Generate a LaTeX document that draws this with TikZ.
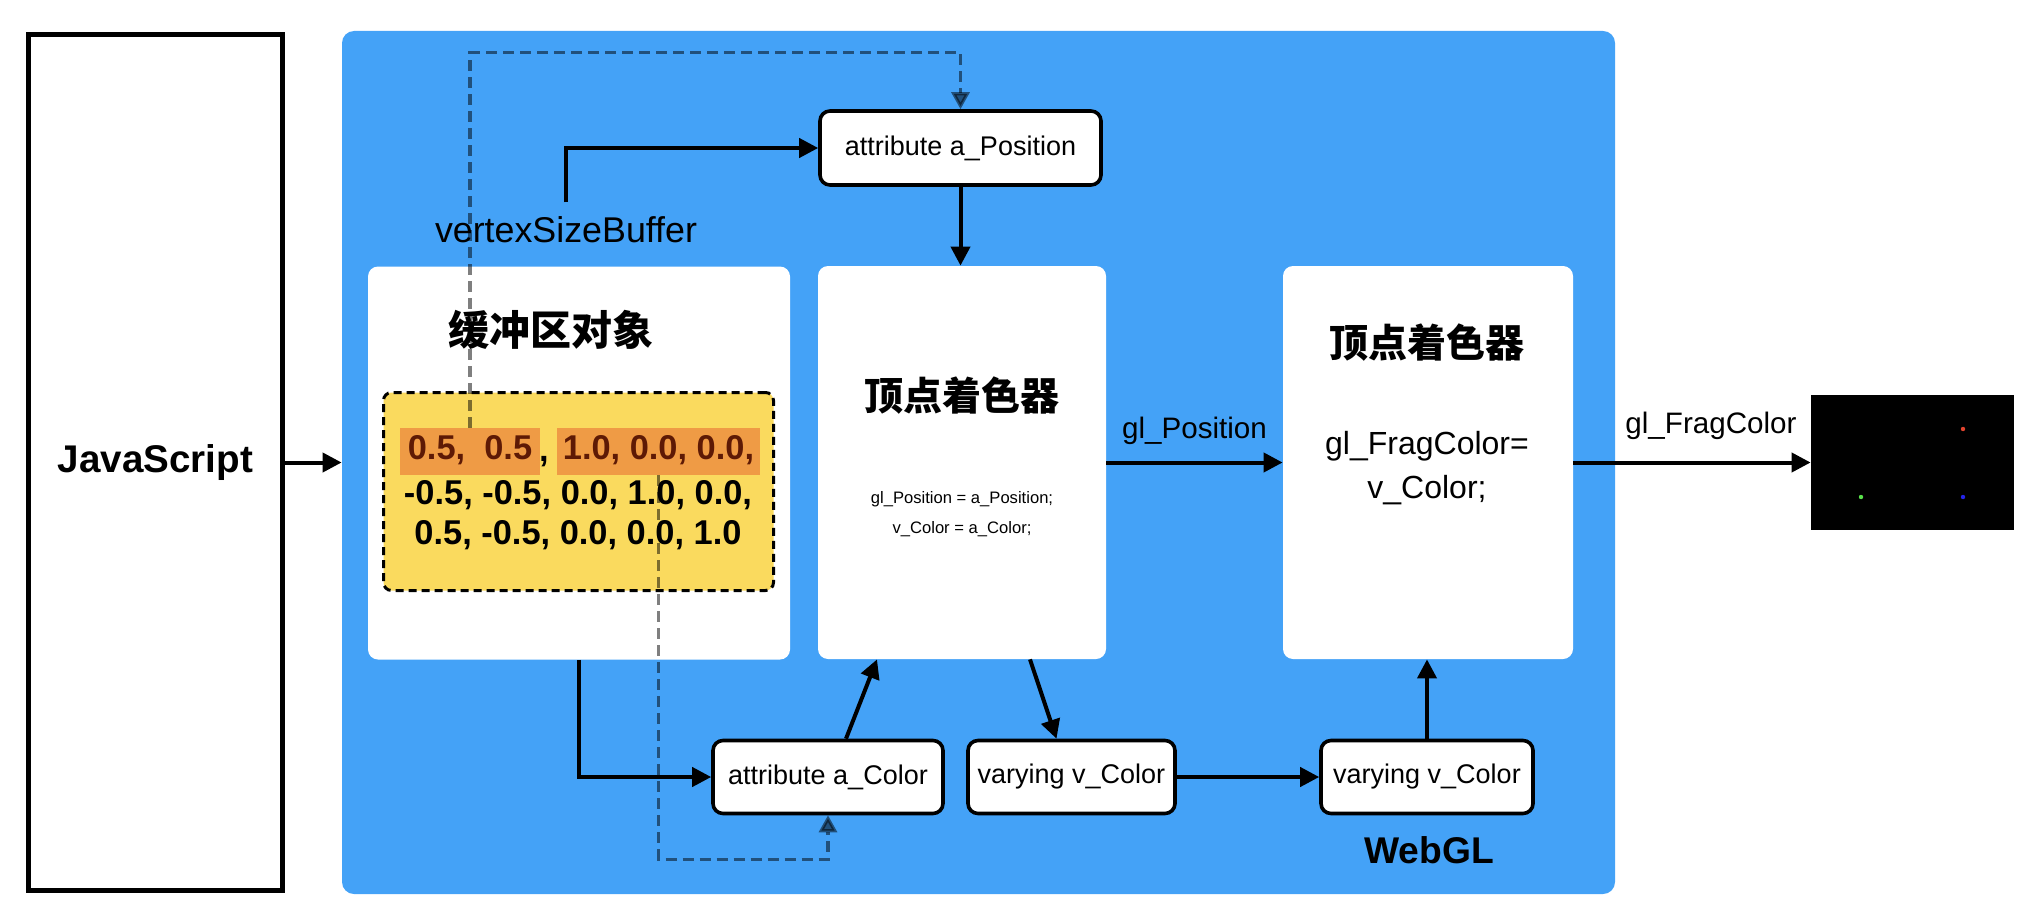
\documentclass[tikz,border=0pt]{standalone}
\usepackage{fontspec}
\setmainfont{Liberation Sans}
\newfontfamily\cjk{Noto Sans CJK SC}
\usetikzlibrary{arrows.meta}

\definecolor{glblue}{HTML}{44A2F7}
\definecolor{datayellow}{HTML}{FADA5E}
\definecolor{hlorange}{HTML}{EF9B45}
\definecolor{hltext}{HTML}{5E1A05}
\definecolor{dotred}{HTML}{E0442E}
\definecolor{dotgreen}{HTML}{58E04A}
\definecolor{dotblue}{HTML}{2424E8}

\tikzset{
    panel/.style={fill=white, rounded corners=5pt, inner sep=0pt, minimum height=196.5pt},
    glbox/.style={draw, line width=1.8pt, rounded corners=5pt, fill=white, inner sep=0pt,
        minimum height=36.5pt, font=\fontsize{13.5}{16}\selectfont},
    numtext/.style={font=\bfseries\fontsize{17.2}{20}\selectfont, inner sep=0pt,
        text height=0.74em, text depth=0.16em},
    hl/.style={numtext, fill=hlorange, text=hltext, minimum height=23.5pt, text height=0.98em},
    title/.style={font=\cjk\bfseries\fontsize{19.5}{22}\selectfont},
    lbl/.style={font=\fontsize{14.8}{17}\selectfont, inner sep=2pt},
    arrow/.style={line width=2pt, -{Triangle[length=9.5pt,width=9.5pt]}},
    flow/.style={line width=1.6pt, opacity=0.5, dash pattern=on 5.5pt off 3pt,
        -{Triangle[length=8.5pt,width=9pt]}}
}

\begin{document}
\begin{tikzpicture}[x=0.5pt, y=-0.5pt]
    \useasboundingbox (0,0) rectangle (2034,920);

    % JavaScript side
    \node[draw, line width=2.2pt, minimum width=127pt, minimum height=428pt,
        font=\bfseries\fontsize{19.3}{22}\selectfont] (js) at (155.5,462.5) {JavaScript};

    % WebGL container and panels
    \node[fill=glblue, rounded corners=6pt, minimum width=636.5pt, minimum height=431.5pt,
        inner sep=0pt] (gl) at (978.5,462.5) {};
    \node[panel, minimum width=211pt] (buf) at (579,463) {};
    \node[panel, minimum width=144pt] (vs) at (962,462.5) {};
    \node[panel, minimum width=145pt] (fs) at (1428,462.5) {};

    % buffer object
    \node[title, font=\cjk\bfseries\fontsize{20.5}{23}\selectfont] (buftitle) at (551,330) {缓冲区对象};
    \node[draw, fill=datayellow, line width=1.5pt, dash pattern=on 4pt off 2.5pt,
        rounded corners=4pt, minimum width=195pt, minimum height=99pt] (data) at (578.5,491.5) {};
    \node[hl, minimum width=70pt] (hlA) at (470,451.5) {0.5,\ \ 0.5};
    \node[numtext] (comma) at (544,456) {,};
    \node[hl, minimum width=101.5pt] (hlB) at (658.5,451.5) {1.0, 0.0, 0.0,};
    \node[numtext] (rowB) at (578,499) {-0.5, -0.5, 0.0, 1.0, 0.0,};
    \node[numtext] (rowC) at (578,539) {0.5, -0.5, 0.0, 0.0, 1.0};

    % vertex shader
    \node[title] (vstitle) at (962,396) {顶点着色器};
    \node[align=center, font=\fontsize{8.3}{15}\selectfont] (vscode) at (962,514)
        {gl\_Position = a\_Position;\\v\_Color = a\_Color;};

    % fragment shader
    \node[title] (fstitle) at (1427,343) {顶点着色器};
    \node[align=center, font=\fontsize{16}{22}\selectfont] (fscode) at (1427,468)
        {gl\_FragColor=\\v\_Color;};

    % variables
    \node[glbox, minimum width=140.5pt, minimum height=37pt] (posattr) at (960.5,148) {attribute a\_Position};
    \node[glbox, minimum width=115pt] (colattr) at (828,777) {attribute a\_Color};
    \node[glbox, minimum width=103.5pt] (varyA) at (1071.5,777) {varying v\_Color};
    \node[glbox, minimum width=106pt] (varyB) at (1427,777) {varying v\_Color};

    \node[font=\fontsize{17.9}{20}\selectfont, inner sep=7pt] (vsb) at (566,230) {vertexSizeBuffer};
    \node[font=\bfseries\fontsize{18.6}{21}\selectfont] (webgl) at (1429,850) {WebGL};

    % result
    \node[fill=black, minimum width=101.5pt, minimum height=67.5pt, inner sep=0pt] (screen) at (1912.5,462.5) {};
    \fill[dotred] (1963,429) circle (2.2);
    \fill[dotgreen] (1861,497) circle (2.2);
    \fill[dotblue] (1963,497) circle (2.2);

    % connectors
    \draw[arrow] (js) -- (gl);
    \draw[arrow] (vsb.north) |- (posattr.west);
    \draw[arrow] (posattr.south) -- (posattr.south |- vs.north);
    \draw[arrow] (vs) -- node[lbl, above=6pt] (glposlbl) {gl\_Position} (fs);
    \draw[arrow] (fs) -- node[lbl, above=8.5pt, pos=0.58] (fraglbl) {gl\_FragColor} (screen);
    \draw[arrow] (buf.south) |- (colattr.west);
    \draw[arrow] ([xshift=9pt]colattr.north) -- ([xshift=-42.5pt]vs.south);
    \draw[arrow] ([xshift=34pt]vs.south) -- ([xshift=-7.5pt]varyA.north);
    \draw[arrow] (varyA) -- (varyB);
    \draw[arrow] (varyB.north) -- (varyB.north |- fs.south);

    % data flow from the buffer
    \draw[flow] (hlA.north) -- ++(0,-375) -| (posattr.north);
    \draw[flow] (hlB.south) -- ++(0,384) -| (colattr.south);
\end{tikzpicture}
\end{document}
